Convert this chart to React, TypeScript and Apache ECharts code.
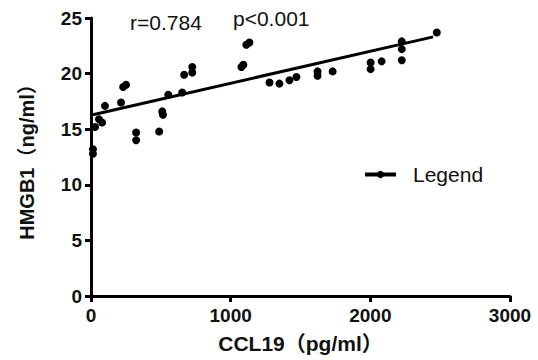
import React, { useEffect, useRef } from "react";
import * as echarts from "echarts";

const ccl19 = [14, 14, 29, 57, 79, 100, 215, 230, 251, 323, 323, 488, 510, 515, 553, 653, 667, 725, 725, 1077, 1091, 1112, 1134, 1278, 1349, 1421, 1471, 1622, 1622, 1730, 2002, 2002, 2081, 2225, 2225, 2225, 2476];
const hmgb1 = [13.2, 12.8, 15.2, 15.9, 15.6, 17.1, 17.4, 18.8, 19.0, 14.7, 14.0, 14.8, 16.6, 16.3, 18.1, 18.3, 19.9, 20.6, 20.1, 20.6, 20.8, 22.6, 22.8, 19.2, 19.1, 19.4, 19.7, 20.2, 19.8, 20.2, 21.0, 20.4, 21.1, 22.9, 22.2, 21.2, 23.7];
const fitX = [14, 2450];
const fitY = [16.3, 23.3];
const xTicks = [0, 3000, 1000];
const yTicks = [0, 25, 5];
const annotations = ["r=0.784", "p<0.001"];
const legendName = "Legend";

const FONT = "'Liberation Sans', Arial, 'Noto Sans CJK SC', sans-serif";

export default function App() {
  const ref = useRef<HTMLDivElement>(null);
  useEffect(() => {
    if (!ref.current) return;
    const chart = echarts.init(ref.current, null, { renderer: "svg" });
    chart.setOption({
      animation: false,
      backgroundColor: "#fff",
      grid: { left: 91, right: 28, top: 18, bottom: 64, containLabel: false },
      legend: {
        data: [legendName],
        left: 358,
        top: 159,
        itemWidth: 31,
        itemHeight: 9,
        lineStyle: { width: 4, color: "#000" },
        textStyle: { fontFamily: FONT, fontSize: 21, color: "#111", padding: [0, 0, 0, 12] },
      },
      graphic: [
        { type: "text", left: 130, top: 12, style: { text: annotations[0], font: `21px ${FONT}`, fill: "#111" } },
        { type: "text", left: 233, top: 8, style: { text: annotations[1], font: `21px ${FONT}`, fill: "#111" } },
      ],
      xAxis: {
        type: "value",
        min: xTicks[0],
        max: xTicks[1],
        interval: xTicks[2],
        name: "CCL19（pg/ml）",
        nameLocation: "middle",
        nameGap: 37,
        nameTextStyle: { fontFamily: FONT, fontSize: 21, fontWeight: "bold", color: "#111" },
        axisLine: { lineStyle: { color: "#000", width: 3 } },
        axisTick: { length: 6, lineStyle: { color: "#000", width: 3 } },
        axisLabel: { margin: 10, fontFamily: FONT, fontSize: 19, fontWeight: "bold", color: "#111", formatter: (v: number) => String(v) },
        splitLine: { show: false },
      },
      yAxis: {
        type: "value",
        min: yTicks[0],
        max: yTicks[1],
        interval: yTicks[2],
        name: "HMGB1（ng/ml）",
        nameLocation: "middle",
        nameGap: 54,
        nameTextStyle: { fontFamily: FONT, fontSize: 20, fontWeight: "bold", color: "#111" },
        axisLine: { lineStyle: { color: "#000", width: 3 } },
        axisTick: { length: 6, lineStyle: { color: "#000", width: 3 } },
        axisLabel: { margin: 9, fontFamily: FONT, fontSize: 19, fontWeight: "bold", color: "#111" },
        splitLine: { show: false },
      },
      series: [
        {
          type: "scatter",
          name: "points",
          data: ccl19.map((x, i) => [x, hmgb1[i]]),
          symbol: "circle",
          symbolSize: 8,
          itemStyle: { color: "#000", opacity: 1 },
          z: 3,
        },
        {
          type: "line",
          name: legendName,
          data: fitX.map((x, i) => [x, fitY[i]]),
          symbol: "circle",
          symbolSize: 9,
          showSymbol: false,
          lineStyle: { color: "#000", width: 3 },
          itemStyle: { color: "#000" },
          z: 2,
        },
      ],
    });
    return () => chart.dispose();
  }, []);
  return <div ref={ref} style={{ position: "fixed", left: 0, top: 0, width: 538, height: 360 }} />;
}
